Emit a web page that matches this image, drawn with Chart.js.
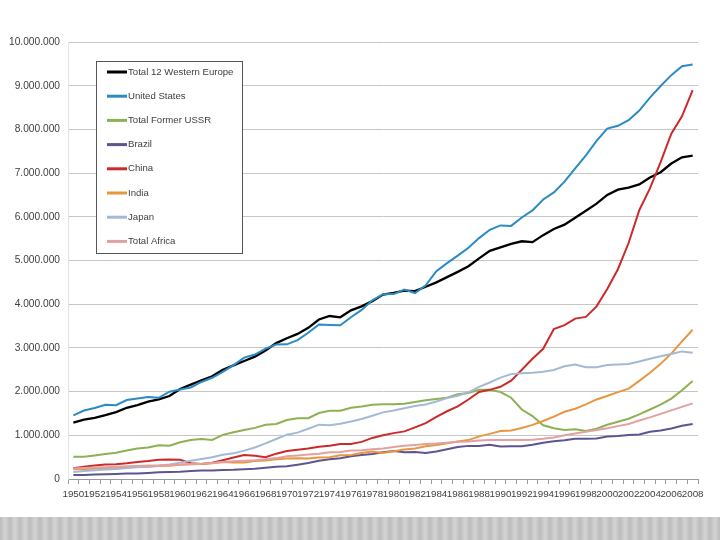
<html>
<head>
	<title>GDP 1950-2008</title>
	<script src="https://cdn.jsdelivr.net/npm/chart.js@4.4.0/dist/chart.umd.min.js"></script>
	<style>
		body { margin: 0; background: #fff; }
		#wrap { position: absolute; left: 0; top: 0; width: 720px; height: 510px; }
		#footer { position: absolute; left: 0; top: 517px; width: 720px; height: 23px;
			background: repeating-linear-gradient(90deg, #bcbcbc 0px, #d4d4d4 5px, #bcbcbc 10px); }
	</style>
	<script>
		var years = [];
		for (var y = 1950; y <= 2008; y++) years.push(String(y));

		var seriesNames = ['Total 12 Western Europe', 'United States', 'Total Former USSR', 'Brazil',
			'China', 'India', 'Japan', 'Total Africa'];
		var seriesColors = ['#000000', '#2b8bc3', '#8db153', '#5f5490', '#cc2a2a', '#e8963f', '#a3b9d6', '#e3a0a0'];

		var westEurope = [1288000,1360000,1400000,1460000,1530000,1630000,1690000,1770000,1820000,1900000,
			2060000,2160000,2260000,2350000,2500000,2600000,2700000,2800000,2940000,3110000,
			3220000,3320000,3460000,3650000,3730000,3700000,3860000,3950000,4070000,4220000,
			4260000,4310000,4300000,4400000,4500000,4620000,4740000,4870000,5050000,5220000,
			5300000,5380000,5440000,5420000,5580000,5720000,5820000,5980000,6140000,6300000,
			6500000,6620000,6670000,6740000,6900000,7020000,7220000,7360000,7400000];
		var unitedStates = [1455916,1566784,1625245,1699970,1688804,1808126,1843455,1878063,1859088,1997061,
			2046727,2094396,2220732,2316765,2450915,2607294,2778086,2847549,2983081,3076517,
			3081900,3178106,3346554,3536622,3526724,3516825,3701163,3868829,4089548,4228647,
			4230558,4336141,4254870,4433129,4755958,4940383,5110480,5290129,5512845,5703521,
			5803200,5791931,5985152,6146210,6395859,6558151,6803769,7109775,7406810,7736332,
			8018740,8082320,8209981,8429993,8727680,8992441,9241398,9443990,9485136];
		var formerUSSR = [510000,510000,540000,570000,600000,650000,700000,720000,770000,760000,
			840000,890000,915000,895000,1010000,1070000,1120000,1170000,1240000,1260000,
			1350000,1390000,1390000,1510000,1560000,1560000,1630000,1660000,1700000,1710000,
			1710000,1720000,1760000,1800000,1830000,1860000,1940000,1970000,2040000,2040000,
			1990000,1860000,1590000,1440000,1230000,1160000,1120000,1140000,1100000,1150000,
			1240000,1310000,1380000,1480000,1590000,1700000,1840000,2030000,2240000];
		var brazil = [89000,94000,101000,106000,114000,124000,128000,138000,153000,158000,
			167000,184000,196000,197000,204000,209000,223000,234000,257000,282000,
			293000,327000,366000,416000,450000,474000,522000,547000,574000,614000,
			639000,611000,615000,597000,629000,679000,733000,758000,758000,782000,
			744000,751000,747000,784000,830000,866000,889000,920000,921000,929000,
			970000,983000,1009000,1021000,1079000,1112000,1155000,1217000,1261000];
		var china = [245000,280000,310000,330000,340000,360000,390000,410000,440000,445000,
			440000,360000,345000,370000,430000,490000,550000,530000,500000,580000,
			640000,670000,700000,740000,760000,800000,800000,850000,940000,1000000,
			1050000,1090000,1180000,1280000,1420000,1550000,1660000,1820000,1990000,2040000,
			2110000,2250000,2500000,2750000,2980000,3430000,3520000,3670000,3710000,3950000,
			4350000,4800000,5400000,6150000,6650000,7250000,7900000,8300000,8900000];
		var india = [222000,227000,234000,249000,259000,266000,281000,278000,298000,304000,
			326000,336000,344000,361000,389000,376000,380000,412000,423000,450000,
			470000,475000,471000,494000,500000,544000,551000,593000,627000,594000,
			637000,674000,697000,749000,777000,820000,858000,890000,975000,1032000,
			1098000,1112000,1169000,1238000,1327000,1427000,1539000,1609000,1706000,1820000,
			1899000,1989000,2069000,2245000,2430000,2635000,2870000,3150000,3415000];
		var japan = [161000,181000,202000,217000,229000,249000,268000,287000,304000,332000,
			375000,420000,458000,497000,554000,587000,649000,721000,814000,916000,
			1014000,1061000,1151000,1243000,1228000,1266000,1316000,1374000,1446000,1525000,
			1568000,1618000,1668000,1706000,1773000,1851000,1905000,1984000,2107000,2209000,
			2321000,2400000,2420000,2430000,2455000,2494000,2580000,2620000,2560000,2555000,
			2610000,2620000,2630000,2690000,2750000,2810000,2860000,2920000,2890000];
		var africa = [243000,252000,262000,270000,280000,290000,300000,308000,312000,322000,
			330000,340000,350000,368000,388000,408000,420000,430000,450000,478000,
			520000,540000,560000,580000,610000,620000,650000,660000,680000,700000,
			730000,760000,780000,800000,810000,830000,850000,860000,880000,890000,
			890000,895000,890000,900000,920000,950000,1000000,1040000,1080000,1120000,
			1160000,1210000,1260000,1340000,1410000,1490000,1570000,1650000,1730000];

		var seriesValues = [westEurope, unitedStates, formerUSSR, brazil, china, india, japan, africa];

		function dots(v) {
			return String(v).replace(/\B(?=(\d{3})+(?!\d))/g, '.');
		}

		// legend box drawn inside the plot, like the excel one
		var boxLegend = {
			id: 'boxLegend',
			afterDraw: function(chart) {
				var ctx = chart.ctx;
				var x = 96, y = 61, w = 146, h = 192;
				ctx.save();
				ctx.fillStyle = '#fff';
				ctx.fillRect(x, y, w, h);
				ctx.strokeStyle = '#555';
				ctx.lineWidth = 1;
				ctx.strokeRect(x + 0.5, y + 0.5, w, h);
				ctx.font = '9.6px "Liberation Sans"';
				ctx.textBaseline = 'middle';
				chart.data.datasets.forEach(function(ds, i) {
					var ly = y + 11 + i * 24.2;
					ctx.strokeStyle = ds.borderColor;
					ctx.lineWidth = 3;
					ctx.beginPath();
					ctx.moveTo(x + 11, ly);
					ctx.lineTo(x + 31, ly);
					ctx.stroke();
					ctx.fillStyle = '#404040';
					ctx.fillText(ds.label, x + 32, ly);
				});
				ctx.restore();
			}
		};

		function start() {
			var datasets = seriesNames.map(function(name, i) {
				return {
					label: name,
					data: seriesValues[i],
					borderColor: seriesColors[i],
					backgroundColor: seriesColors[i],
					borderWidth: i == 0 ? 2.3 : 2,
					pointRadius: 0,
					tension: 0,
					fill: false,
					order: 8 - i
				};
			});

			new Chart(document.getElementById('gdpChart'), {
				type: 'line',
				data: { labels: years, datasets: datasets },
				plugins: [boxLegend],
				options: {
					responsive: true,
					maintainAspectRatio: false,
					animation: false,
					layout: { padding: { top: 42, right: 22, bottom: 4, left: 0 } },
					plugins: { legend: { display: false }, tooltip: { enabled: false } },
					scales: {
						x: {
							offset: true,
							grid: { offset: true, drawOnChartArea: false, drawTicks: true, tickLength: 5, color: '#9a9a9a' },
							border: { color: '#9a9a9a' },
							ticks: {
								autoSkip: false, maxRotation: 0, minRotation: 0, padding: 4,
								color: '#404040', font: { family: 'Liberation Sans', size: 9.8 },
								callback: function(v, i) { return i % 2 == 0 ? years[i] : ''; }
							},
							afterFit: function(s) { s.height = 27; }
						},
						y: {
							min: 0, max: 10000000,
							grid: { color: '#c6c6c6', drawTicks: false },
							border: { color: '#e4e4e4' },
							ticks: {
								stepSize: 1000000, padding: 8,
								color: '#404040', font: { family: 'Liberation Sans', size: 10.2 },
								callback: function(v) { return dots(v); }
							},
							afterFit: function(s) { s.width = 68; }
						}
					}
				}
			});
		}
	</script>
</head>
<body onload="start()">
	<div id="wrap"><canvas id="gdpChart"></canvas></div>
	<div id="footer"></div>
</body>
</html>
